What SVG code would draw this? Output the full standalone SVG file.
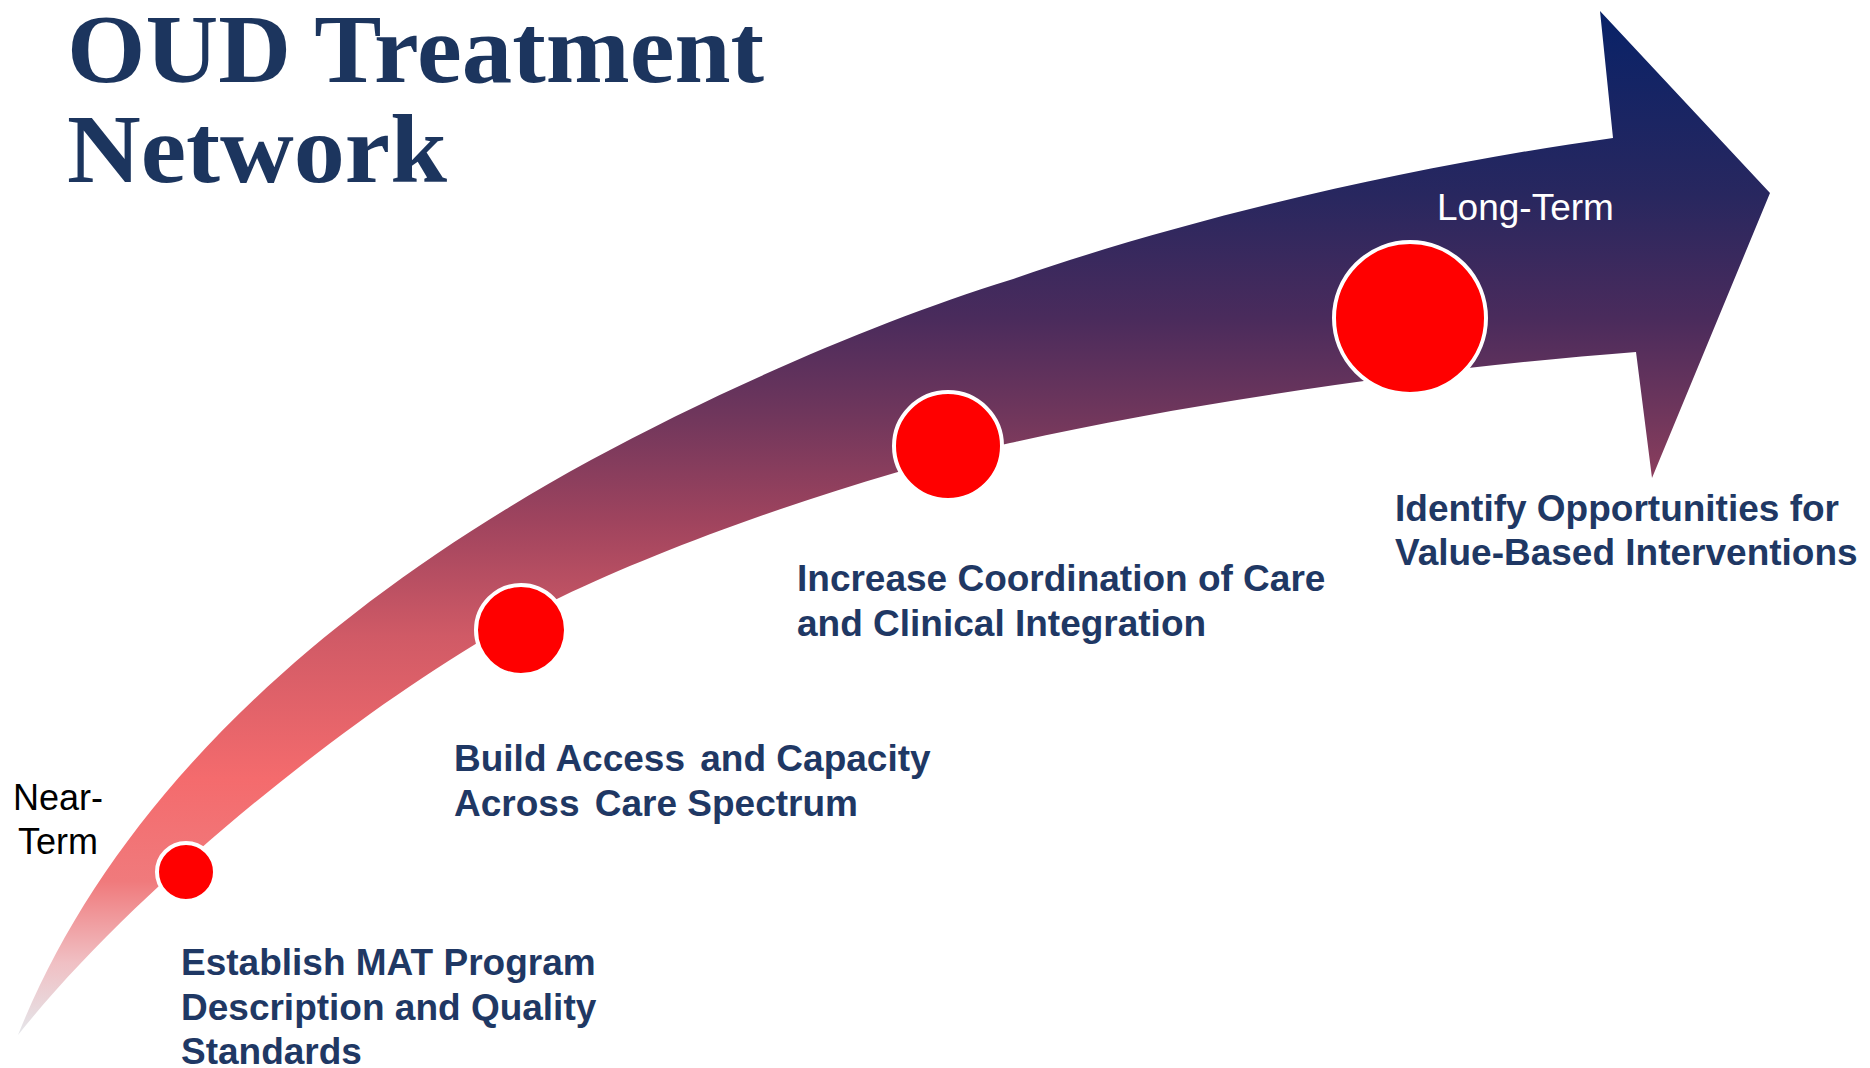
<svg xmlns="http://www.w3.org/2000/svg" width="1870" height="1068" viewBox="0 0 1870 1068">
<style>
.title{font-family:"Liberation Serif","Times New Roman",serif;font-weight:bold;font-size:97px;fill:#1c355e}
.lbl{font-family:"Liberation Sans",Arial,sans-serif;font-weight:bold;font-size:37px;fill:#1f3864}
.term{font-family:"Liberation Sans",Arial,sans-serif;font-size:36px}
.dot{fill:#ff0000;stroke:#ffffff;stroke-width:4}
</style>
<defs>
<linearGradient id="arrowGrad" gradientUnits="userSpaceOnUse" x1="0" y1="11" x2="0" y2="1035">
<stop offset="0" stop-color="#082268"/>
<stop offset="0.18" stop-color="#28275f"/>
<stop offset="0.30" stop-color="#4a2b5c"/>
<stop offset="0.40" stop-color="#72375c"/>
<stop offset="0.50" stop-color="#a0445e"/>
<stop offset="0.61" stop-color="#d05a66"/>
<stop offset="0.75" stop-color="#f46b6d"/>
<stop offset="0.85" stop-color="#f07a7c"/>
<stop offset="0.93" stop-color="#f0c0c4"/>
<stop offset="1" stop-color="#e4e6ea"/>
</linearGradient>
</defs>
<rect width="1870" height="1068" fill="#ffffff"/>
<g id="title">
<text class="title" x="67" y="82" textLength="697" lengthAdjust="spacingAndGlyphs">OUD Treatment</text>
<text class="title" x="67" y="182" textLength="380" lengthAdjust="spacingAndGlyphs">Network</text>
</g>
<g id="connectors">
<path id="arrow" fill="url(#arrowGrad)" d="M18,1035 C100,830 280,630 591,460 C720,390 880,320 1010,280 C1200,214 1420,165 1613,138 L1600,11 L1770,193 L1652,478 L1636,352 C1450,366 1200,400 1010,443 C860,477 680,540 561,597 C401,674 150,870 18,1035 Z"/>
</g>
<g id="node-near">
<circle class="dot" cx="186" cy="872" r="29"/>
<text class="term" x="58" y="810" text-anchor="middle" fill="#000000">Near-</text>
<text class="term" x="58" y="854" text-anchor="middle" fill="#000000">Term</text>
<text class="lbl" x="181" y="975">Establish MAT Program</text>
<text class="lbl" x="181" y="1020">Description and Quality</text>
<text class="lbl" x="181" y="1064">Standards</text>
</g>
<g id="node-access">
<circle class="dot" cx="521" cy="630" r="45"/>
<text class="lbl" x="454" y="771">Build Access <tspan dx="5">and Capacity</tspan></text>
<text class="lbl" x="454" y="816">Across <tspan dx="5">Care Spectrum</tspan></text>
</g>
<g id="node-coord">
<circle class="dot" cx="948" cy="446" r="54"/>
<text class="lbl" x="797" y="591">Increase Coordination of Care</text>
<text class="lbl" x="797" y="636">and Clinical Integration</text>
</g>
<g id="node-value">
<circle class="dot" cx="1410" cy="318" r="76"/>
<text class="term" x="1437" y="220" fill="#ffffff" style="font-size:37px">Long-Term</text>
<text class="lbl" x="1395" y="521">Identify Opportunities for</text>
<text class="lbl" x="1395" y="565">Value-Based Interventions</text>
</g>
</svg>
